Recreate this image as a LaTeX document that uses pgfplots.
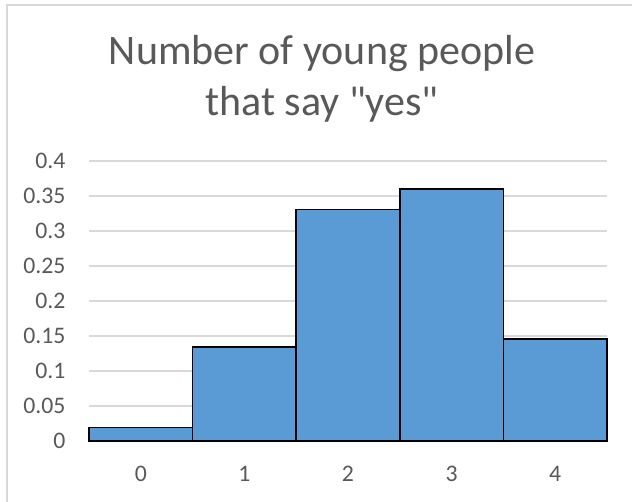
\documentclass[border=0pt]{standalone}
\usepackage{fontspec}
\setmainfont{Carlito}[Ligatures=TeXOff]
\usepackage{pgfplots}
\pgfplotsset{compat=1.18}
\definecolor{barblue}{HTML}{5B9BD5}
\definecolor{txtgray}{HTML}{595959}
\definecolor{gridgray}{HTML}{D9D9D9}
\definecolor{framegray}{HTML}{D9D9D9}
\newcommand\tickfont{\fontsize{17.8}{20}\selectfont}
\begin{document}
\begin{tikzpicture}
\useasboundingbox (0pt,0pt) rectangle (474pt,375.75pt);
\draw[framegray, line width=1.2pt] (5.25pt,-20pt) -- (5.25pt,372pt) -- (520pt,372pt);
\node[anchor=base, text=txtgray, font=\fontsize{31.5}{38}\selectfont, inner sep=0pt] at (241.5pt,327pt) {Number of young people};
\node[anchor=base, text=txtgray, font=\fontsize{31.5}{38}\selectfont, inner sep=0pt] at (241.5pt,289.5pt) {that say "yes"};
\begin{axis}[
  at={(66.75pt,45pt)}, anchor=south west,
  scale only axis, width=388.5pt, height=210pt,
  xmin=-0.5, xmax=4.5, ymin=0, ymax=0.4,
  xtick={0,1,2,3,4},
  xticklabels={0,1,2,3,4},
  ytick={0,0.05,0.1,0.15,0.2,0.25,0.3,0.35,0.4},
  yticklabels={0,0.05,0.1,0.15,0.2,0.25,0.3,0.35,0.4},
  major tick length=0pt,
  ymajorgrids, grid style={gridgray, line width=0.9pt},
  axis line style={draw=none},
  /pgf/number format/assume math mode=true,
  tick label style={text=txtgray, font=\tickfont},
  yticklabel style={anchor=east, inner sep=0pt, xshift=-17.5pt},
  xticklabel style={anchor=base, inner sep=0pt, yshift=-30pt},
  clip=false,
]
\draw[gray!60, line width=0.9pt] (axis cs:-0.5,0) -- (axis cs:4.5,0);
\addplot[ybar, bar width=1, fill=barblue, draw=black, line width=1.1pt] coordinates {
  (0,0.0196) (1,0.134) (2,0.331) (3,0.360) (4,0.146)
};
\end{axis}
\end{tikzpicture}
\end{document}
